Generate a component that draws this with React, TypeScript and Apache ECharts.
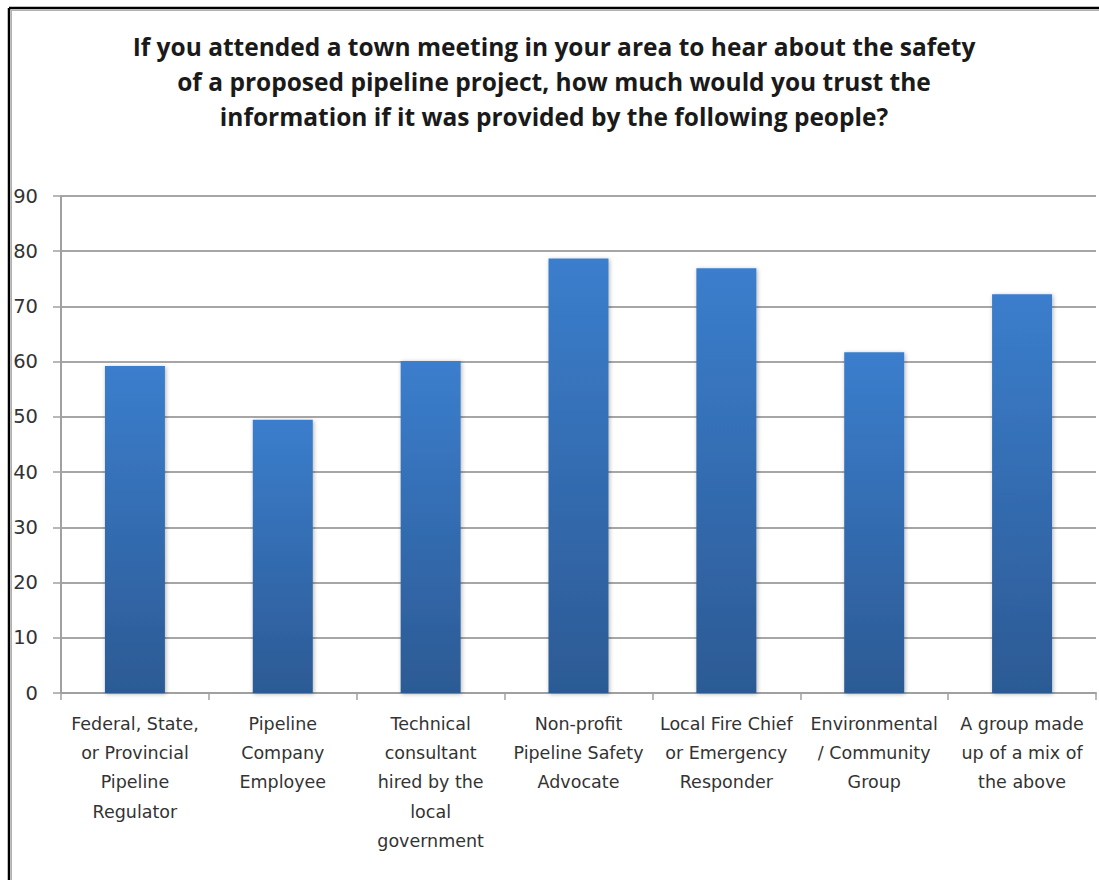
import React, { useEffect, useRef } from "react";
import * as echarts from "echarts";

const categories = [
  "Federal, State,\nor Provincial\nPipeline\nRegulator",
  "Pipeline\nCompany\nEmployee",
  "Technical\nconsultant\nhired by the\nlocal\ngovernment",
  "Non-profit\nPipeline Safety\nAdvocate",
  "Local Fire Chief\nor Emergency\nResponder",
  "Environmental\n/ Community\nGroup",
  "A group made\nup of a mix of\nthe above",
];
const values = [59.2, 49.5, 60.1, 78.7, 76.9, 61.7, 72.2];
const titleText =
  "If you attended a town meeting in your area to hear about the safety\nof a proposed pipeline project, how much would you trust the\ninformation if it was provided by the following people?";

export default function App() {
  const ref = useRef<HTMLDivElement>(null);
  useEffect(() => {
    if (!ref.current) return;
    const chart = echarts.init(ref.current, null, { renderer: "svg" });
    chart.setOption({
      animation: false,
      backgroundColor: "#ffffff",
      title: {
        text: titleText,
        left: 549,
        top: 24,
        textAlign: "center",
        textStyle: {
          fontFamily: "'Open Sans', sans-serif",
          fontWeight: "bold",
          fontSize: 24.5,
          lineHeight: 35,
          color: "#1a1a1a",
        },
      },
      grid: { left: 61, right: 3, top: 196, bottom: 187, containLabel: false },
      xAxis: {
        type: "category",
        data: categories,
        axisLine: { lineStyle: { color: "#a0a0a0", width: 2 } },
        axisTick: { show: true, length: 7, alignWithLabel: false, lineStyle: { color: "#a0a0a0", width: 1.5 } },
        axisLabel: {
          interval: 0,
          margin: 16,
          fontFamily: "'DejaVu Sans', sans-serif",
          fontSize: 17.5,
          lineHeight: 29.3,
          color: "#333333",
        },
      },
      yAxis: {
        type: "value",
        min: 0,
        max: 90,
        interval: 10,
        axisLine: { show: true, lineStyle: { color: "#a0a0a0", width: 2 } },
        axisTick: { show: true, length: 8, lineStyle: { color: "#a0a0a0", width: 1.5 } },
        splitLine: { lineStyle: { color: "#a6a6a6", width: 2 } },
        axisLabel: {
          margin: 23,
          fontFamily: "'DejaVu Sans', sans-serif",
          fontSize: 19.5,
          color: "#333333",
        },
      },
      series: [
        {
          type: "bar",
          data: values,
          barWidth: 60,
          itemStyle: {
            color: new echarts.graphic.LinearGradient(0, 0, 0, 1, [
              { offset: 0, color: "#3b7ecd" },
              { offset: 1, color: "#2c5a94" },
            ]),
            shadowBlur: 4,
            shadowColor: "rgba(0,0,0,0.3)",
            shadowOffsetX: 1,
            shadowOffsetY: 1,
          },
        },
      ],
      graphic: [
        {
          type: "line",
          shape: { x1: 9, y1: 8, x2: 1099, y2: 8 },
          style: { stroke: "#000000", lineWidth: 2.5 },
          z: 100,
        },
        {
          type: "line",
          shape: { x1: 9, y1: 8, x2: 9, y2: 880 },
          style: { stroke: "#000000", lineWidth: 2.5 },
          z: 100,
        },
        {
          type: "line",
          shape: { x1: 11, y1: 10.5, x2: 1099, y2: 10.5 },
          style: { stroke: "#b0b0b0", lineWidth: 1 },
          z: 100,
        },
        {
          type: "line",
          shape: { x1: 11.5, y1: 10, x2: 11.5, y2: 880 },
          style: { stroke: "#b0b0b0", lineWidth: 1 },
          z: 100,
        },
      ],
    });
    return () => chart.dispose();
  }, []);
  return (
    <div
      ref={ref}
      style={{ position: "absolute", left: 0, top: 0, width: 1099, height: 880 }}
    />
  );
}
